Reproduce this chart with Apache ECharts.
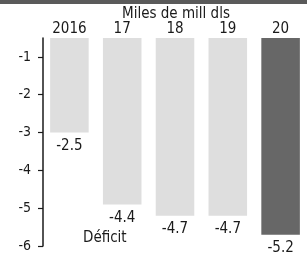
<!DOCTYPE html>
<html><head><meta charset="utf-8">
<script src="https://cdn.jsdelivr.net/npm/echarts@6/dist/echarts.min.js"></script>
<style>html,body{margin:0;padding:0;background:#fff}#c{width:307px;height:264px}</style>
</head><body><div id="c"></div>
<script>
const categories = ["2016", "17", "18", "19", "20"];
const deficit = [-2.5, -4.4, -4.7, -4.7, -5.2];
const baseOffset = [-0.5, -0.5, -0.5, -0.5, -0.5];
const yTicks = [-1, -2, -3, -4, -5, -6];
const unitTitle = "Miles de mill dls";
const seriesName = "Déficit";

const FONT = '"Liberation Sans Narrow","DejaVu Sans Condensed",sans-serif';
const chart = echarts.init(document.getElementById('c'), null, {renderer: 'canvas'});
chart.setOption({
  animation: false,
  backgroundColor: '#fff',
  grid: {left: 43, top: 38, width: 267, height: 208, containLabel: false},
  graphic: [
    {type: 'rect', shape: {x: 0, y: 0, width: 307, height: 4}, style: {fill: '#5a5a5a'}},
    {type: 'text', left: 122, top: 7, style: {text: unitTitle, font: '15px ' + FONT, fill: '#1a1a1a'}},
    {type: 'text', left: 83, top: 231, style: {text: seriesName, font: '15px ' + FONT, fill: '#1a1a1a'}}
  ],
  xAxis: {
    type: 'category', position: 'top', data: categories,
    axisLine: {show: false}, axisTick: {show: false},
    axisLabel: {margin: 1, fontSize: 15, fontFamily: FONT, color: '#1a1a1a'}
  },
  yAxis: {
    type: 'value', min: -6, max: -0.5,
    splitLine: {show: false},
    axisLine: {show: true, lineStyle: {color: '#1a1a1a', width: 1.5}},
    axisTick: {show: true, length: 5, customValues: yTicks, lineStyle: {color: '#1a1a1a', width: 1.2}},
    axisLabel: {customValues: yTicks, margin: 12, fontSize: 14, fontFamily: FONT, color: '#1a1a1a'}
  },
  series: [
    {type: 'bar', stack: 's', data: baseOffset, itemStyle: {color: 'rgba(0,0,0,0)'}, barCategoryGap: '27%', silent: true},
    {type: 'bar', stack: 's', name: seriesName, barCategoryGap: '27%',
     data: deficit.map((v, i) => ({value: v, itemStyle: {color: i === deficit.length - 1 ? '#676767' : '#dedede'}})),
     label: {show: true, position: 'bottom', distance: 6, fontSize: 15, fontFamily: FONT, color: '#1a1a1a'}}
  ]
});
</script></body></html>
